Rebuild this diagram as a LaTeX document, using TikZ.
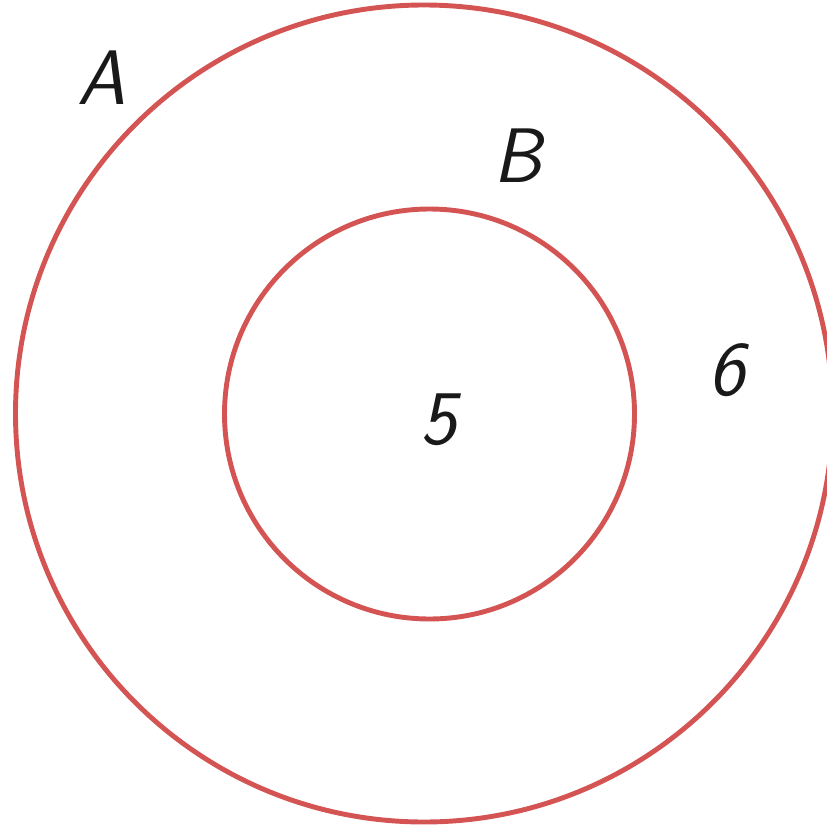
\documentclass[tikz,border=0pt]{standalone}
\usepackage{fontspec}
\usetikzlibrary{positioning}
\definecolor{setred}{RGB}{212,84,84}
\tikzset{
  setline/.style={draw=setred, line width=2.8pt},
  hand/.style={font=\fontsize{44}{48}\selectfont\sffamily\itshape, text=black!90, inner sep=0pt}
}
\begin{document}
\begin{tikzpicture}[x=0.02cm, y=-0.02cm]
    \useasboundingbox (0,0) rectangle (827,834);
    \begin{scope}
      \clip (0,0) rectangle (827,834);
      \coordinate (cA) at (424,413.5);
      \coordinate (cB) at (429.5,414);
      \draw[setline] (cA) circle[radius=408.5];
      \draw[setline] (cB) circle[radius=205];
    \end{scope}
    \node[hand] (lblA) at (102,78) {A};
    \node[hand] (lblB) at (518,156) {B};
    \node[hand] (valB) at (439,420) {5};
    \node[hand] (valA) at (727,370) {6};
  \end{tikzpicture}
\end{document}
